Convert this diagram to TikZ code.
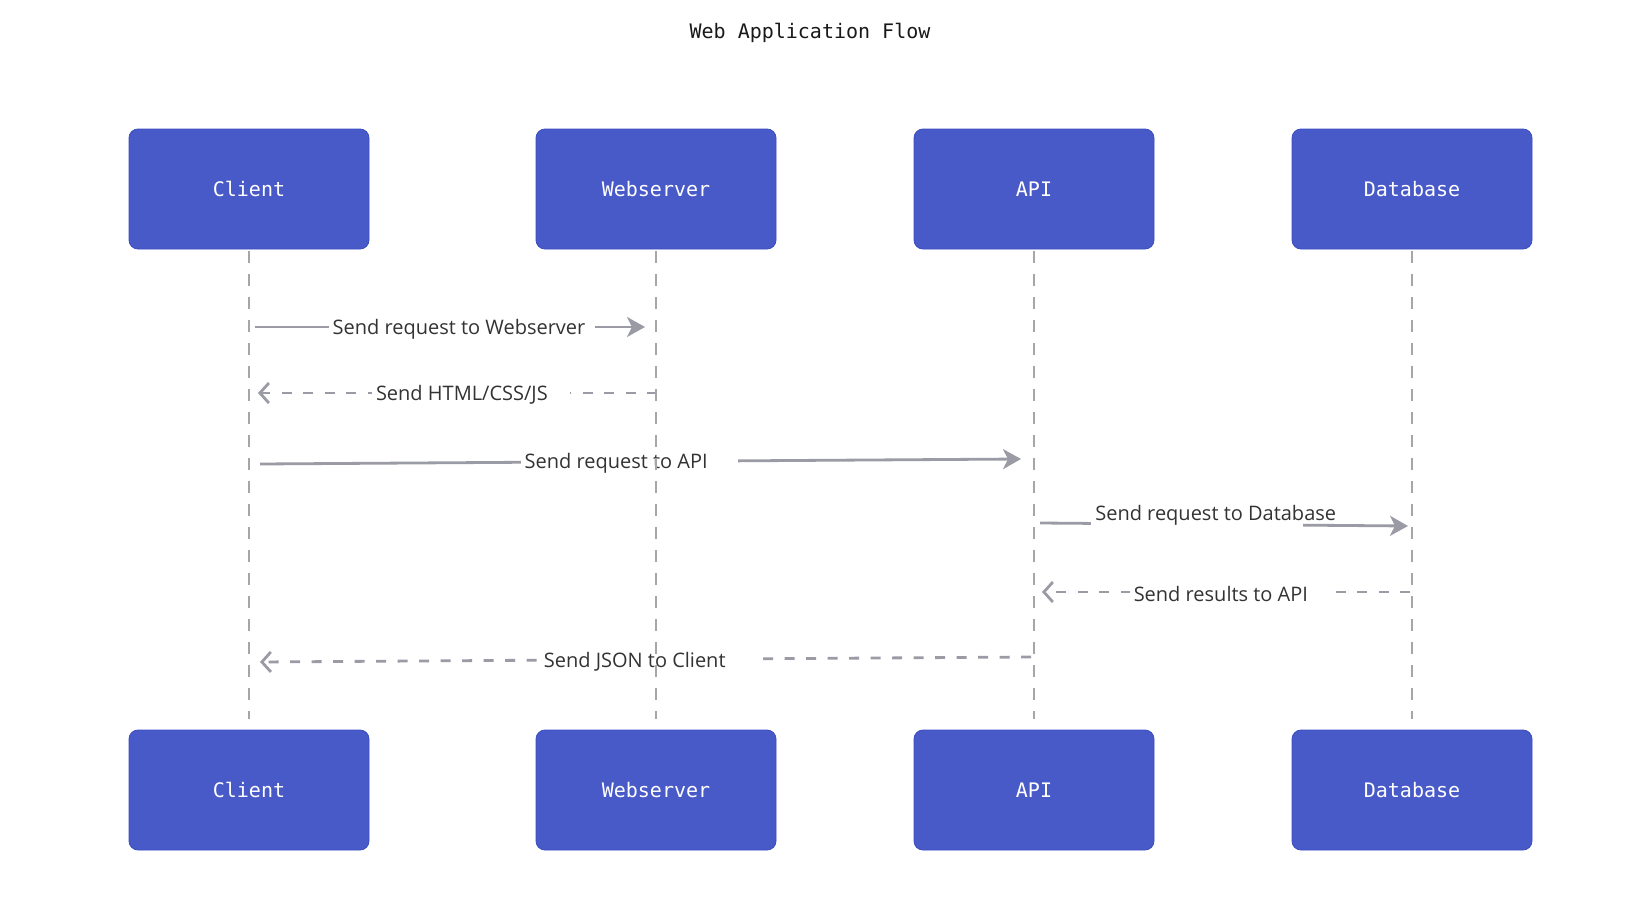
\documentclass[tikz,border=0pt]{standalone}
\usepackage{fontspec}
\setmainfont{Open Sans}
\newfontfamily\monofont{DejaVu Sans Mono}
\usepackage{tikz}
\usetikzlibrary{arrows.meta,positioning}

\definecolor{actorblue}{HTML}{4859C8}
\definecolor{actoredge}{HTML}{3A4DC2}
\definecolor{lifegray}{HTML}{A6A6A8}
\definecolor{msggray}{HTML}{9A9BA4}
\definecolor{msgtext}{HTML}{333333}

\begin{document}
\begin{tikzpicture}[x=1pt,y=-1pt,
  actor/.style={draw=actoredge,line width=0.8pt,fill=actorblue,rounded corners=9pt,
    minimum width=240pt,minimum height=120pt,text=white,font=\monofont\fontsize{20}{24}\selectfont},
  lifeline/.style={lifegray,line width=2.6pt,dash pattern=on 12pt off 11pt},
  call/.style={msggray,line width=2.8pt,-{Stealth[length=18pt,width=20pt,inset=5pt]}},
  reply/.style={msggray,line width=2.8pt,dash pattern=on 10pt off 11.5pt,-{Straight Barb[length=9pt,width=20pt]}},
  msg/.style={fill=white,inner xsep=4pt,inner ysep=3pt,text=msgtext,font=\fontsize{20}{24}\selectfont,
    execute at end node={\hspace{#1}},xshift=#1/2,yshift=-2pt},
  msg/.default=18pt]

\useasboundingbox (0,0) rectangle (1642,902);

\node[font=\monofont\fontsize{20}{24}\selectfont,text=black!90] (title) at (810,33) {Web Application Flow};

\foreach \name/\lbl/\x in {client/Client/249,web/Webserver/656,api/API/1034,db/Database/1412}{
  \node[actor] (\name-top) at (\x,189) {\lbl};
  \node[actor] (\name-bot) at (\x,790) {\lbl};
}

% message ends
\coordinate (m1a) at (255,327);  \coordinate (m1b) at (645,327);
\coordinate (m2a) at (657,393);  \coordinate (m2b) at (258,393);
\coordinate (m3a) at (260,464);  \coordinate (m3b) at (1021,459);
\coordinate (m4a) at (1040,523); \coordinate (m4b) at (1408,526);
\coordinate (m5a) at (1410,592); \coordinate (m5b) at (1042,592);
\coordinate (m6a) at (1031,657); \coordinate (m6b) at (260,662);

\draw[call] (m1a) -- node[msg=6pt,pos=0.523] (m1) {Send request to Webserver} (m1b);
\draw[reply] (m2a) -- node[msg,pos=0.489] (m2) {Send HTML/CSS/JS} (m2b);
\draw[call] (m3a) -- node[msg=26pt,pos=0.468] (m3) {Send request to API} (m3b);
\draw[call] (m4a) -- node[msg,pos=0.403,inner ysep=6pt,yshift=10.5pt] (m4)
  {\makebox[186pt][l]{Send request to Database}} (m4b);
\draw[reply] (m5a) -- node[msg,pos=0.514] (m5) {Send results to API} (m5b);
\draw[reply] (m6a) -- node[msg=30pt,pos=0.514] (m6) {Send JSON to Client} (m6b);

% lifelines on top
\foreach \name in {client,web,api,db}
  \draw[lifeline] ([yshift=-2pt]\name-top.south) -- ([yshift=11pt]\name-bot.north);
\end{tikzpicture}
\end{document}
